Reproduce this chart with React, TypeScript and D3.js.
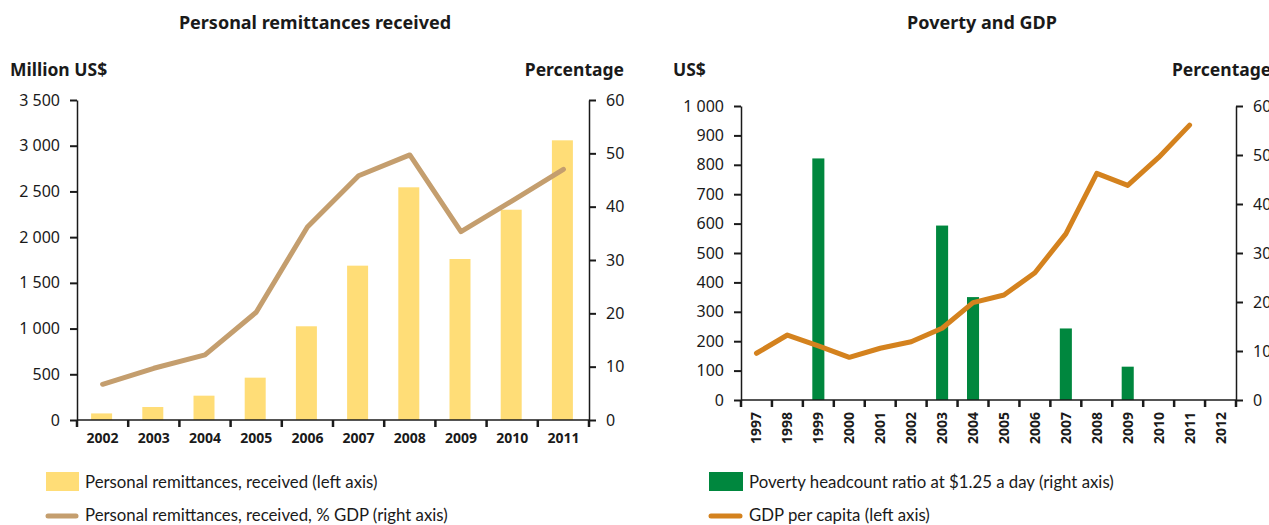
import React, { useRef, useEffect } from 'react';
import * as d3 from 'd3';

// Left panel: personal remittances
const remitYears = ['2002', '2003', '2004', '2005', '2006', '2007', '2008', '2009', '2010', '2011'];
const remitMillions = [72, 142, 266, 463, 1025, 1688, 2545, 1761, 2300, 3059];
const remitPctGdp = [6.7, 9.7, 12.2, 20.2, 36.2, 45.8, 49.7, 35.3, 41.1, 47.0];
const remitLeftTicks = [0, 500, 1000, 1500, 2000, 2500, 3000, 3500];
const remitRightTicks = [0, 10, 20, 30, 40, 50, 60];

// Right panel: poverty and GDP
const povYears = ['1997', '1998', '1999', '2000', '2001', '2002', '2003', '2004', '2005', '2006', '2007', '2008', '2009', '2010', '2011', '2012'];
const povertyRatio: (number | null)[] = [null, null, 49.3, null, null, null, 35.6, 21.0, null, null, 14.6, null, 6.8, null, null, null];
const gdpPerCapita: (number | null)[] = [159, 221, 184, 145, 176, 198, 244, 331, 357, 433, 565, 771, 730, 825, 935, null];
const povLeftTicks = [0, 100, 200, 300, 400, 500, 600, 700, 800, 900, 1000];
const povRightTicks = [0, 10, 20, 30, 40, 50, 60];

const FONT = '"Noto Sans", "Open Sans", sans-serif';
const LEGEND_FONT = 'Lato, "Noto Sans", sans-serif';
const INK = '#1a1a1a';

export default function App() {
    const svgRef = useRef<SVGSVGElement>(null);

    useEffect(() => {
        if (!svgRef.current) return;
        const svg = d3.select(svgRef.current);
        svg.selectAll('*').remove();

        const styleAxis = (g: any) => {
            g.select('.domain').attr('stroke', INK).attr('stroke-width', 1.5);
            g.selectAll('.tick line').attr('stroke', INK).attr('stroke-width', 2);
            g.selectAll('.tick text').attr('fill', INK).attr('font-family', FONT);
        };

        const text = (x: number, y: number, s: string, opts: any = {}) =>
            svg.append('text')
                .attr('x', x).attr('y', y)
                .attr('font-family', opts.font || FONT)
                .attr('font-size', opts.size || 16)
                .attr('font-weight', opts.bold ? 'bold' : 'normal')
                .attr('text-anchor', opts.anchor || 'start')
                .attr('fill', INK)
                .text(s);

        // ---------- Left panel ----------
        {
            const x0 = 77, x1 = 589, yTop = 100, yBot = 420;
            const x = d3.scaleBand().domain(remitYears).range([x0, x1]);
            const yL = d3.scaleLinear().domain([0, 3500]).range([yBot, yTop]);
            const yR = d3.scaleLinear().domain([0, 60]).range([yBot, yTop]);
            const bw = x.bandwidth() * 0.41;

            svg.append('g').selectAll('rect')
                .data(remitYears)
                .join('rect')
                .attr('x', d => x(d)! + x.bandwidth() / 2 - bw / 2 - 1)
                .attr('y', (d, i) => yL(remitMillions[i]))
                .attr('width', bw)
                .attr('height', (d, i) => yBot - yL(remitMillions[i]))
                .attr('fill', '#FFDD77');

            const line = d3.line<number>()
                .x((d, i) => x(remitYears[i])! + x.bandwidth() / 2)
                .y(d => yR(d));
            svg.append('path')
                .datum(remitPctGdp)
                .attr('d', line)
                .attr('fill', 'none')
                .attr('stroke', '#C49E6E')
                .attr('stroke-width', 5)
                .attr('stroke-linecap', 'round')
                .attr('stroke-linejoin', 'round');

            svg.append('g')
                .attr('transform', `translate(${x0},0)`)
                .call(d3.axisLeft(yL).tickValues(remitLeftTicks).tickSize(7).tickSizeOuter(0).tickPadding(10)
                    .tickFormat(d => d3.format(',')(d as number).replace(',', ' ')))
                .call(styleAxis)
                .selectAll('text').attr('font-size', 16);

            svg.append('g')
                .attr('transform', `translate(${x1},0)`)
                .call(d3.axisRight(yR).tickValues(remitRightTicks).tickSize(7).tickSizeOuter(0).tickPadding(10))
                .call(styleAxis)
                .selectAll('text').attr('font-size', 16);

            const xa = svg.append('g').attr('transform', `translate(0,${yBot})`);
            xa.append('line').attr('x1', x0).attr('x2', x1).attr('y1', 0).attr('y2', 0).attr('stroke', INK).attr('stroke-width', 1.5);
            xa.selectAll('line.tk')
                .data(remitYears.concat(['end']))
                .join('line')
                .attr('class', 'tk')
                .attr('x1', (d, i) => x0 + i * x.step()).attr('x2', (d, i) => x0 + i * x.step())
                .attr('y1', 0).attr('y2', 7)
                .attr('stroke', INK).attr('stroke-width', 2.5);
            xa.selectAll('text')
                .data(remitYears)
                .join('text')
                .attr('x', d => x(d)! + x.bandwidth() / 2)
                .attr('y', 23)
                .attr('text-anchor', 'middle')
                .attr('font-family', FONT)
                .attr('font-size', 14)
                .attr('font-weight', 'bold')
                .attr('fill', INK)
                .text(d => d);

            text(315, 29, 'Personal remittances received', { bold: true, anchor: 'middle', size: 18 });
            text(10, 76, 'Million US$', { bold: true, size: 17.5 });
            text(624, 76, 'Percentage', { bold: true, anchor: 'end', size: 17.5 });

            // legend
            svg.append('rect').attr('x', 46).attr('y', 472).attr('width', 33).attr('height', 19).attr('fill', '#FFDD77');
            text(85, 488, 'Personal remittances, received (left axis)', { size: 16.8, font: LEGEND_FONT });
            svg.append('line').attr('x1', 48).attr('x2', 76).attr('y1', 516).attr('y2', 516)
                .attr('stroke', '#C49E6E').attr('stroke-width', 5).attr('stroke-linecap', 'round');
            text(85, 521, 'Personal remittances, received, % GDP (right axis)', { size: 16.8, font: LEGEND_FONT });
        }

        // ---------- Right panel ----------
        {
            const x0 = 741, x1 = 1236, yTop = 106, yBot = 400;
            const x = d3.scaleBand().domain(povYears).range([x0, x1]);
            const yL = d3.scaleLinear().domain([0, 1000]).range([yBot, yTop]);
            const yR = d3.scaleLinear().domain([0, 60]).range([yBot, yTop]);
            const bw = x.bandwidth() * 0.39;

            const barData = povYears.map((y, i) => ({ y, v: povertyRatio[i] })).filter(d => d.v != null);
            svg.append('g').selectAll('rect')
                .data(barData)
                .join('rect')
                .attr('x', d => x(d.y)! + x.bandwidth() / 2 - bw / 2)
                .attr('y', d => yR(d.v as number))
                .attr('width', bw)
                .attr('height', d => yBot - yR(d.v as number))
                .attr('fill', '#00873E');

            const lineData = povYears.map((y, i) => ({ y, v: gdpPerCapita[i] })).filter(d => d.v != null);
            const line = d3.line<{ y: string; v: number | null }>()
                .x(d => x(d.y)! + x.bandwidth() / 2)
                .y(d => yL(d.v as number));
            svg.append('path')
                .datum(lineData)
                .attr('d', line)
                .attr('fill', 'none')
                .attr('stroke', '#D4821E')
                .attr('stroke-width', 5)
                .attr('stroke-linecap', 'round')
                .attr('stroke-linejoin', 'round');

            svg.append('g')
                .attr('transform', `translate(${x0},0)`)
                .call(d3.axisLeft(yL).tickValues(povLeftTicks).tickSize(7).tickSizeOuter(0).tickPadding(10)
                    .tickFormat(d => d3.format(',')(d as number).replace(',', ' ')))
                .call(styleAxis)
                .selectAll('text').attr('font-size', 16);

            svg.append('g')
                .attr('transform', `translate(${x1},0)`)
                .call(d3.axisRight(yR).tickValues(povRightTicks).tickSize(7).tickSizeOuter(0).tickPadding(10))
                .call(styleAxis)
                .selectAll('text').attr('font-size', 16);

            const xa = svg.append('g').attr('transform', `translate(0,${yBot})`);
            xa.append('line').attr('x1', x0).attr('x2', x1).attr('y1', 0).attr('y2', 0).attr('stroke', INK).attr('stroke-width', 1.5);
            xa.selectAll('line.tk')
                .data(povYears.concat(['end']))
                .join('line')
                .attr('class', 'tk')
                .attr('x1', (d, i) => x0 + i * x.step()).attr('x2', (d, i) => x0 + i * x.step())
                .attr('y1', 0).attr('y2', 7)
                .attr('stroke', INK).attr('stroke-width', 2.5);
            xa.selectAll('text')
                .data(povYears)
                .join('text')
                .attr('transform', d => `translate(${x(d)! + x.bandwidth() / 2 + 5},12) rotate(-90)`)
                .attr('text-anchor', 'end')
                .attr('font-family', FONT)
                .attr('font-size', 14)
                .attr('font-weight', 'bold')
                .attr('fill', INK)
                .text(d => d);

            text(982, 29, 'Poverty and GDP', { bold: true, anchor: 'middle', size: 18 });
            text(673, 76, 'US$', { bold: true, size: 17.5 });
            text(1172, 76, 'Percentage', { bold: true, size: 17.5 });

            // legend
            svg.append('rect').attr('x', 709).attr('y', 472).attr('width', 34).attr('height', 19).attr('fill', '#00873E');
            text(749, 488, 'Poverty headcount ratio at $1.25 a day (right axis)', { size: 16.8, font: LEGEND_FONT });
            svg.append('line').attr('x1', 711).attr('x2', 740).attr('y1', 516).attr('y2', 516)
                .attr('stroke', '#D4821E').attr('stroke-width', 5).attr('stroke-linecap', 'round');
            text(749, 521, 'GDP per capita (left axis)', { size: 16.8, font: LEGEND_FONT });
        }
    }, []);

    return (
        <svg
            ref={svgRef}
            width={1269}
            height={525}
            style={{ position: 'absolute', left: 0, top: 0, display: 'block', background: 'white' }}
        />
    );
}
